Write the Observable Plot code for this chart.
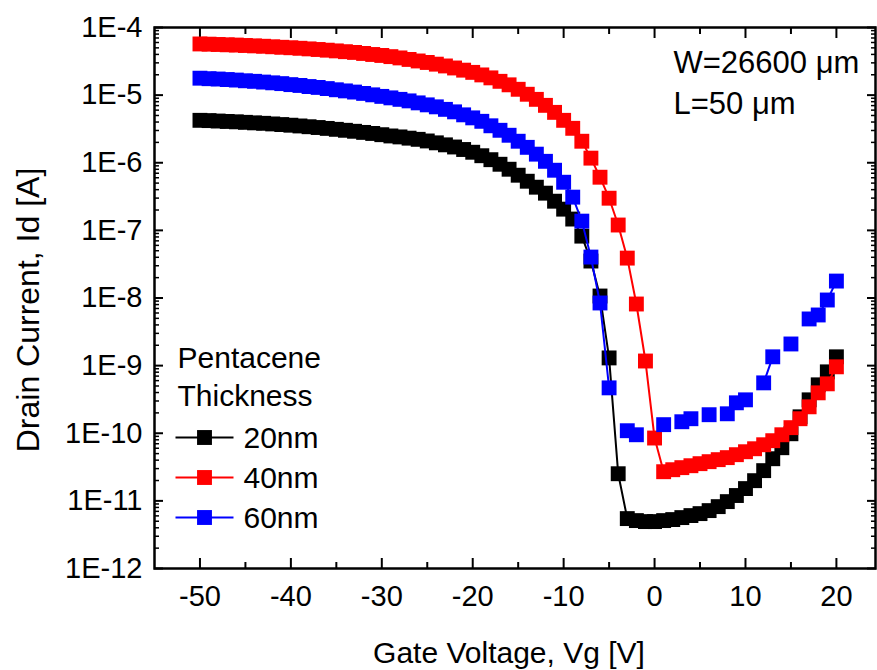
<!DOCTYPE html>
<html>
<head>
<meta charset="utf-8">
<script src="https://cdn.jsdelivr.net/npm/d3@7"></script>
<script src="https://cdn.jsdelivr.net/npm/@observablehq/plot@0.6"></script>
<style>
  html, body { margin: 0; padding: 0; background: #fff; }
  #chart { width: 877px; height: 670px; }
</style>
</head>
<body>
<div id="chart"></div>
<script>
// ---- data ----
const gateVoltage = [
  -50,-49,-48,-47,-46,-45,-44,-43,-42,-41,
  -40,-39,-38,-37,-36,-35,-34,-33,-32,-31,
  -30,-29,-28,-27,-26,-25,-24,-23,-22,-21,
  -20,-19,-18,-17,-16,-15,-14,-13,-12,-11,
  -10,-9,-8,-7,-6,-5,-4,-3,-2,-1,
  0,1,2,3,4,5,6,7,8,9,
  10,11,12,13,14,15,16,17,18,19,20
];
const drain20nm = [
  4.24e-6,4.20e-6,4.14e-6,4.08e-6,4.03e-6,3.96e-6,3.89e-6,3.83e-6,3.75e-6,3.67e-6,
  3.59e-6,3.50e-6,3.41e-6,3.32e-6,3.22e-6,3.12e-6,3.02e-6,2.92e-6,2.81e-6,2.71e-6,
  2.60e-6,2.49e-6,2.41e-6,2.31e-6,2.22e-6,2.10e-6,1.97e-6,1.84e-6,1.71e-6,1.57e-6,
  1.43e-6,1.27e-6,1.11e-6,9.50e-7,8.02e-7,6.54e-7,5.33e-7,4.35e-7,3.55e-7,2.70e-7,
  2.06e-7,1.47e-7,8.22e-8,3.52e-8,1.07e-8,1.30e-9,2.52e-11,5.47e-12,5.11e-12,4.94e-12,
  4.94e-12,5.11e-12,5.29e-12,5.66e-12,6.06e-12,6.48e-12,7.18e-12,8.22e-12,9.75e-12,1.20e-11,
  1.52e-11,1.99e-11,2.80e-11,4.20e-11,6.11e-11,9.83e-11,1.75e-10,3.12e-10,5.20e-10,8.09e-10,1.35e-9
];
const drain40nm = [
  5.71e-5,5.67e-5,5.61e-5,5.55e-5,5.50e-5,5.42e-5,5.35e-5,5.28e-5,5.19e-5,5.10e-5,
  5.02e-5,4.93e-5,4.83e-5,4.73e-5,4.62e-5,4.51e-5,4.39e-5,4.28e-5,4.13e-5,3.99e-5,
  3.86e-5,3.71e-5,3.55e-5,3.37e-5,3.20e-5,3.04e-5,2.87e-5,2.70e-5,2.52e-5,2.34e-5,
  2.17e-5,1.99e-5,1.80e-5,1.60e-5,1.42e-5,1.22e-5,1.03e-5,8.66e-6,7.06e-6,5.56e-6,
  4.24e-6,3.23e-6,2.08e-6,1.17e-6,6.11e-7,2.99e-7,1.20e-7,3.89e-8,8.15e-9,1.17e-9,
  8.5e-11,2.70e-11,2.89e-11,3.10e-11,3.31e-11,3.55e-11,3.80e-11,4.07e-11,4.36e-11,4.82e-11,
  5.33e-11,5.90e-11,6.76e-11,7.76e-11,9.5e-11,1.21e-10,1.64e-10,2.46e-10,3.96e-10,5.38e-10,9.6e-10
];
const drain60nm = [
  1.78e-5,1.75e-5,1.73e-5,1.70e-5,1.67e-5,1.63e-5,1.60e-5,1.56e-5,1.52e-5,1.48e-5,
  1.43e-5,1.39e-5,1.34e-5,1.30e-5,1.25e-5,1.20e-5,1.155e-5,1.11e-5,1.06e-5,1.01e-5,
  9.58e-6,9.11e-6,8.66e-6,8.22e-6,7.68e-6,7.18e-6,6.71e-6,6.16e-6,5.66e-6,5.11e-6,
  4.61e-6,4.10e-6,3.52e-6,3.02e-6,2.55e-6,2.08e-6,1.69e-6,1.34e-6,1.05e-6,7.75e-7,
  5.15e-7,3.10e-7,1.37e-7,4.03e-8,8.44e-9,4.69e-10,null,1.09e-10,9.5e-11,null,
  null,1.34e-10,null,1.48e-10,1.64e-10,null,1.88e-10,null,1.94e-10,2.82e-10,
  3.12e-10,null,5.56e-10,1.35e-9,null,2.09e-9,null,4.9e-9,5.61e-9,9.34e-9,1.78e-8
];
const seriesNames = ["20nm", "40nm", "60nm"];
const seriesColors = ["#000000", "#ff0000", "#0000ff"];
const xMajorTicks = [-50, -40, -30, -20, -10, 0, 10, 20];
const xMinorTicks = [-45, -35, -25, -15, -5, 5, 15];
const yMajorTicks = [1e-12, 1e-11, 1e-10, 1e-9, 1e-8, 1e-7, 1e-6, 1e-5, 1e-4];
const yMinorMultipliers = [2, 3, 4, 5, 6, 7, 8, 9];
const legendTitle = ["Pentacene", "Thickness"];
const annotations = ["W=26600 \u03BCm", "L=50 \u03BCm"];
const xTitle = "Gate Voltage, Vg [V]";
const yTitle = "Drain Current, Id [A]";

// ---- build tables ----
const seriesValues = [drain20nm, drain40nm, drain60nm];
const series = seriesNames.map((name, s) => ({
  name,
  color: seriesColors[s],
  rows: gateVoltage.map((v, i) => ({V: v, I: seriesValues[s][i] == null ? NaN : seriesValues[s][i]}))
}));
const yMinorTicks = yMajorTicks.slice(0, -1).flatMap(d => yMinorMultipliers.map(m => m * d));

const FONT = "'Liberation Sans', Arial, Helvetica, sans-serif";
const fmtE = d => "1E" + Math.round(Math.log10(d));

const legendLine = {draw(context) { context.moveTo(-29, 0); context.lineTo(29, 0); }};

const marks = [];
// axes (inward ticks, Origin style)
marks.push(Plot.axisX({anchor: "bottom", ticks: xMajorTicks, tickSize: -10, tickPadding: 27, strokeWidth: 2, fontSize: 29, tickFormat: d => String(d)}));
marks.push(Plot.axisX({anchor: "bottom", ticks: xMinorTicks, tickSize: -6, strokeWidth: 2, tickFormat: () => ""}));
marks.push(Plot.axisX({anchor: "top", ticks: xMajorTicks, tickSize: -10, strokeWidth: 2, tickFormat: () => ""}));
marks.push(Plot.axisX({anchor: "top", ticks: xMinorTicks, tickSize: -6, strokeWidth: 2, tickFormat: () => ""}));
marks.push(Plot.axisY({anchor: "left", ticks: yMajorTicks, tickSize: -9, tickPadding: 21, strokeWidth: 2, fontSize: 29, tickFormat: fmtE}));
marks.push(Plot.axisY({anchor: "left", ticks: yMinorTicks, tickSize: -5, strokeWidth: 1.5, tickFormat: () => ""}));
marks.push(Plot.axisY({anchor: "right", ticks: yMajorTicks, tickSize: -9, strokeWidth: 2, tickFormat: () => ""}));
marks.push(Plot.axisY({anchor: "right", ticks: yMinorTicks, tickSize: -5, strokeWidth: 1.5, tickFormat: () => ""}));
marks.push(Plot.frame({stroke: "black", strokeWidth: 2.5}));

// data
for (const s of series) {
  marks.push(Plot.line(s.rows, {x: "V", y: "I", stroke: s.color, strokeWidth: 2}));
  marks.push(Plot.dot(s.rows, {x: "V", y: "I", symbol: "square", r: 8.4, fill: s.color, stroke: "none"}));
}

// axis titles
marks.push(Plot.text([xTitle], {text: d => d, frameAnchor: "bottom", dx: -6, dy: 85, textAnchor: "middle", lineAnchor: "middle", fontSize: 30}));
marks.push(Plot.text([yTitle], {text: d => d, frameAnchor: "left", dx: -126, dy: 12, rotate: -90, textAnchor: "middle", lineAnchor: "middle", fontSize: 32}));

// annotation
annotations.forEach((t, i) => {
  marks.push(Plot.text([t], {text: d => d, frameAnchor: "top-left", dx: 519, dy: 36 + i * 41, textAnchor: "start", lineAnchor: "middle", fontSize: 31}));
});

// legend
legendTitle.forEach((t, i) => {
  marks.push(Plot.text([t], {text: d => d, frameAnchor: "top-left", dx: 23, dy: 331 + i * 38, textAnchor: "start", lineAnchor: "middle", fontSize: 30}));
});
series.forEach((s, i) => {
  const dy = 410 + i * 40;
  marks.push(Plot.dot([s.name], {frameAnchor: "top-left", dx: 50, dy, symbol: legendLine, stroke: s.color, strokeWidth: 2, fill: "none"}));
  marks.push(Plot.dot([s.name], {frameAnchor: "top-left", dx: 50, dy, symbol: "square", r: 8.4, fill: s.color, stroke: "none"}));
  marks.push(Plot.text([s.name], {text: d => d, frameAnchor: "top-left", dx: 89, dy: dy + 1, textAnchor: "start", lineAnchor: "middle", fontSize: 30}));
});

const chart = Plot.plot({
  width: 877,
  height: 670,
  marginLeft: 154,
  marginRight: 2,
  marginTop: 27,
  marginBottom: 102,
  x: {domain: [-55, 24.3], label: null},
  y: {type: "log", domain: [1e-12, 1e-4], label: null},
  style: {fontFamily: FONT, fontSize: "28px", color: "black", background: "white", overflow: "visible"},
  marks
});
document.getElementById("chart").appendChild(chart);
</script>
</body>
</html>
